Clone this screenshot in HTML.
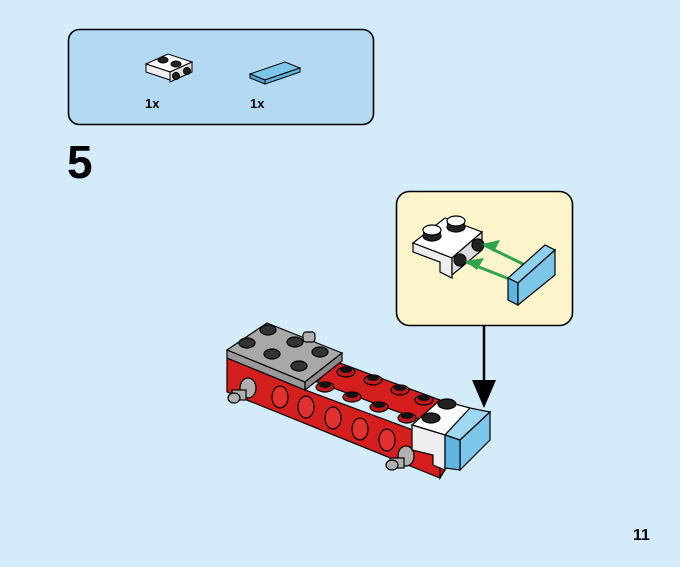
<!DOCTYPE html>
<html><head><style>
html,body{margin:0;padding:0;background:#d4ebfa;}
svg{display:block}
text{font-family:"Liberation Sans",sans-serif;font-weight:bold;fill:#000}
</style></head><body>
<svg width="680" height="567" viewBox="0 0 680 567" xmlns="http://www.w3.org/2000/svg">
<rect width="680" height="567" fill="#d4ebfa"/>
<!-- parts panel -->
<rect x="68.5" y="29.5" width="305" height="95" rx="11" fill="#b3d9f3" stroke="#000" stroke-width="1.6"/>
<!-- bracket small -->
<g stroke="#000" stroke-width="1">
<polygon points="146,64 168,54 192,62 170,72" fill="#fff"/>
<polygon points="146,64 170,72 170,80 146,72" fill="#eee"/>
<polygon points="170,72 192,62 192,72 170,82" fill="#ddd"/>
<ellipse cx="163" cy="60" rx="5" ry="3" fill="#222"/>
<ellipse cx="176" cy="64" rx="5" ry="3" fill="#222"/>
<circle cx="176" cy="76" r="3.5" fill="#222"/>
<circle cx="187" cy="71" r="3.5" fill="#222"/>
</g>
<!-- tile small -->
<g stroke="#000" stroke-width="1">
<polygon points="250,74 285,62 300,68 265,80" fill="#7cc6ea"/>
<polygon points="250,74 265,80 265,84 250,78" fill="#4fa6d6"/>
<polygon points="265,80 300,68 300,72 265,84" fill="#5fb3df"/>
</g>
<text x="145" y="108" font-size="13">1x</text>
<text x="250" y="108" font-size="13">1x</text>
<text x="67" y="178" font-size="46">5</text>
<text x="633" y="540" font-size="16">11</text>
<!-- callout -->
<rect x="396.5" y="191.5" width="176" height="134" rx="13" fill="#fdf4cc" stroke="#000" stroke-width="1.6"/>
<line x1="484" y1="326" x2="484" y2="385" stroke="#000" stroke-width="2.5"/>
<polygon points="472,380 496,380 484,408" fill="#000"/>
<!-- callout bracket -->
<g stroke="#000" stroke-width="1.2">
<polygon points="413,243 445,218 482,232 452,258" fill="#fff"/>
<polygon points="413,243 452,258 452,278 440,272 440,262 413,252" fill="#eee"/>
<polygon points="452,258 482,232 482,250 452,275" fill="#ddd"/>
<ellipse cx="432" cy="236" rx="9" ry="5" fill="#222"/>
<rect x="423" y="229" width="18" height="7" fill="#222" stroke="none"/>
<ellipse cx="432" cy="230" rx="9" ry="5" fill="#fff"/>
<ellipse cx="456" cy="227" rx="9" ry="5" fill="#222"/>
<rect x="447" y="220" width="18" height="7" fill="#222" stroke="none"/>
<ellipse cx="456" cy="221" rx="9" ry="5" fill="#fff"/>
<circle cx="478" cy="245" r="6" fill="#222"/>
<circle cx="460" cy="260" r="6" fill="#222"/>
</g>
<g stroke="#2fa44f" stroke-width="3" fill="#2fa44f">
<line x1="484" y1="245" x2="525" y2="265"/>
<line x1="466" y1="262" x2="512" y2="280"/>
<polygon points="482,244 500,240 494,252" stroke="none"/>
<polygon points="465,261 484,258 477,270" stroke="none"/>
</g>
<g stroke="#000" stroke-width="1.2">
<polygon points="508,278 545,245 555,250 518,283" fill="#8fd2f0"/>
<polygon points="508,278 518,283 518,305 508,300" fill="#5fb5e0"/>
<polygon points="518,283 555,250 555,275 518,305" fill="#7cc6ea"/>
</g>
<!-- main model -->
<g stroke="#000" stroke-width="1.2">
<!-- red body -->
<polygon points="227,358 305,390 440,440 440,478 227,392" fill="#d51f1f"/>
<polygon points="317,382 337,362 440,400 420,420" fill="#d51f1f"/>
<polygon points="440,400 445,403 445,470 440,478" fill="#b51515"/>
<!-- red studs -->
<g fill="#c01818">
<ellipse cx="346" cy="372" rx="9" ry="5"/><ellipse cx="373" cy="380" rx="9" ry="5"/><ellipse cx="400" cy="390" rx="9" ry="5"/><ellipse cx="424" cy="400" rx="9" ry="5"/>
<ellipse cx="325" cy="387" rx="9" ry="5"/><ellipse cx="352" cy="397" rx="9" ry="5"/><ellipse cx="379" cy="407" rx="9" ry="5"/><ellipse cx="407" cy="418" rx="9" ry="5"/>
</g>
<g fill="#111" stroke="none">
<ellipse cx="346" cy="370" rx="6" ry="3"/><ellipse cx="373" cy="378" rx="6" ry="3"/><ellipse cx="400" cy="388" rx="6" ry="3"/><ellipse cx="424" cy="398" rx="6" ry="3"/>
<ellipse cx="325" cy="385" rx="6" ry="3"/><ellipse cx="352" cy="395" rx="6" ry="3"/><ellipse cx="379" cy="405" rx="6" ry="3"/><ellipse cx="407" cy="416" rx="6" ry="3"/>
</g>
<!-- holes -->
<g fill="#e03030">
<ellipse cx="280" cy="397" rx="8" ry="11"/><ellipse cx="306" cy="407" rx="8" ry="11"/><ellipse cx="333" cy="418" rx="8" ry="11"/><ellipse cx="360" cy="429" rx="8" ry="11"/><ellipse cx="387" cy="440" rx="8" ry="11"/>
</g>
<!-- gray brick -->
<polygon points="227,350 267,323 342,353 305,382" fill="#a8a8a8"/>
<polygon points="227,350 305,382 305,390 227,358" fill="#999"/>
<polygon points="305,382 342,353 342,361 305,390" fill="#8c8c8c"/>
<g fill="#333">
<ellipse cx="268" cy="330" rx="8" ry="5"/><ellipse cx="295" cy="342" rx="8" ry="5"/><ellipse cx="320" cy="352" rx="8" ry="5"/>
<ellipse cx="247" cy="343" rx="8" ry="5"/><ellipse cx="272" cy="354" rx="8" ry="5"/><ellipse cx="299" cy="366" rx="8" ry="5"/>
</g>
<!-- pins -->
<g fill="#b0b0b0">
<rect x="303" y="332" width="12" height="10" rx="3"/>
<ellipse cx="248" cy="388" rx="8" ry="10"/><rect x="232" y="390" width="14" height="10"/><ellipse cx="234" cy="398" rx="6" ry="5"/>
<ellipse cx="406" cy="456" rx="8" ry="10"/><rect x="390" y="458" width="14" height="10"/><ellipse cx="392" cy="465" rx="6" ry="5"/>
</g>
<!-- white brick -->
<polygon points="412,425 440,400 470,408 445,435" fill="#fff"/>
<polygon points="412,425 445,435 445,470 433,465 433,455 412,450" fill="#eee"/>
<ellipse cx="447" cy="404" rx="9" ry="5" fill="#222"/>
<ellipse cx="431" cy="418" rx="9" ry="5" fill="#222"/>
<!-- blue tile -->
<polygon points="445,435 470,408 490,412 460,440" fill="#9fd8f2"/>
<polygon points="460,440 490,412 490,440 460,470" fill="#7cc6ea"/>
<polygon points="445,435 460,440 460,470 445,468" fill="#5fb5e0"/>
</g>
</svg>
</body></html>
